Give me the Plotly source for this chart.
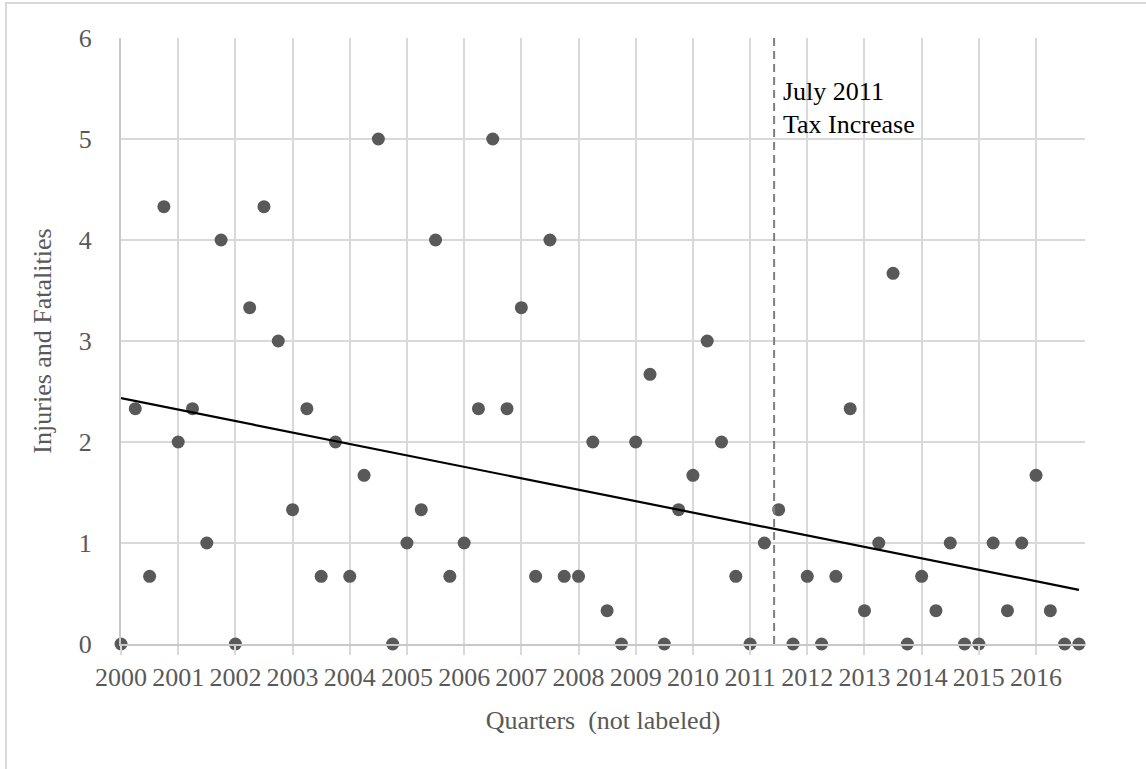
import numpy as np
import plotly.graph_objects as go

# Quarterly injuries and fatalities, 2000 Q1 through 2016 Q4
years = list(range(2000, 2017))
quarter_offsets = [0.0, 0.25, 0.5, 0.75]
injuries = [
    0, 2.33, 0.67, 4.33,
    2, 2.33, 1, 4,
    0, 3.33, 4.33, 3,
    1.33, 2.33, 0.67, 2,
    0.67, 1.67, 5, 0,
    1, 1.33, 4, 0.67,
    1, 2.33, 5, 2.33,
    3.33, 0.67, 4, 0.67,
    0.67, 2, 0.33, 0,
    2, 2.67, 0, 1.33,
    1.67, 3, 2, 0.67,
    0, 1, 1.33, 0,
    0.67, 0, 0.67, 2.33,
    0.33, 1, 3.67, 0,
    0.67, 0.33, 1, 0,
    0, 1, 0.33, 1,
    1.67, 0.33, 0, 0,
]
tick_years = list(range(2000, 2017))
tick_labels = [str(y) for y in tick_years]

# policy marker: between the Q2 and Q3 2011 observations
tax_x = 2011.42
tax_text = ["July 2011", "Tax Increase"]

x = [y + q for y in years for q in quarter_offsets][: len(injuries)]
y = injuries

# linear trend fitted to the quarterly series
slope, intercept = np.polyfit(x, y, 1)
trend_x = [x[0], x[-1]]
trend_y = [slope * v + intercept for v in trend_x]

FONT = "Liberation Serif, Times New Roman, serif"
GRID = "#d9d9d9"
TEXT = "#595959"

fig = go.Figure()
fig.add_trace(go.Scatter(
    x=x, y=y, mode="markers",
    marker=dict(color="#595959", size=13),
    cliponaxis=False, showlegend=False,
))
fig.add_trace(go.Scatter(
    x=trend_x, y=trend_y, mode="lines",
    line=dict(color="black", width=2.2),
    cliponaxis=False, showlegend=False,
))

fig.add_shape(type="line", xref="x", yref="paper",
              x0=tax_x, x1=tax_x, y0=0, y1=1,
              line=dict(color="#7f7f7f", width=2, dash="8px,5px"))

# chart-area border
fig.add_shape(type="rect", xref="paper", yref="paper",
              x0=-0.1193, x1=1.2, y0=-0.3, y1=1.0578,
              line=dict(color=GRID, width=2), layer="below")

for text, yp in zip(tax_text, [0.911, 0.858]):
    fig.add_annotation(x=tax_x, y=yp, xref="x", yref="paper",
                       text=text, showarrow=False, xanchor="left",
                       yanchor="middle", xshift=7,
                       font=dict(family=FONT, size=26, color="black"))

fig.update_xaxes(
    range=[2000, 2016.856],
    tickmode="array", tickvals=tick_years, ticktext=tick_labels,
    showgrid=True, gridcolor=GRID, gridwidth=2,
    ticks="outside", ticklen=9, tickwidth=2, tickcolor=GRID,
    showline=True, linecolor="#c8c8c8", linewidth=2,
    zeroline=False,
    tickfont=dict(family=FONT, size=26, color=TEXT),
    title=dict(text="Quarters  (not labeled)", standoff=20,
               font=dict(family=FONT, size=26, color=TEXT)),
)
fig.update_yaxes(
    range=[0, 6], dtick=1, tick0=0,
    showgrid=True, gridcolor=GRID, gridwidth=2,
    ticks="outside", ticklen=22, tickcolor="rgba(0,0,0,0)",
    showline=True, linecolor="#c8c8c8", linewidth=2,
    zeroline=False,
    tickfont=dict(family=FONT, size=26, color=TEXT),
    title=dict(text="Injuries and Fatalities", standoff=20,
               font=dict(family=FONT, size=26, color=TEXT)),
)

fig.update_layout(
    width=1146, height=769,
    margin=dict(l=121, r=61, t=38, b=125),
    paper_bgcolor="white", plot_bgcolor="white",
    font=dict(family=FONT, color=TEXT),
)

fig.write_html("out.html")
